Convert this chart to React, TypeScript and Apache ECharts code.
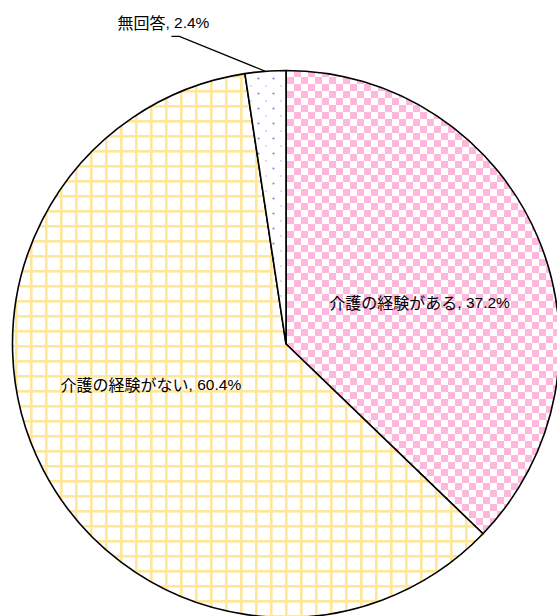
import React, { useEffect, useRef } from "react";
import * as echarts from "echarts";

const categories = ["介護の経験がある", "介護の経験がない", "無回答"];
const values = [37.2, 60.4, 2.4];

function makeChecker(): string {
  const c = document.createElement("canvas");
  c.width = 14;
  c.height = 14;
  const g = c.getContext("2d")!;
  g.fillStyle = "#ffffff";
  g.fillRect(0, 0, 14, 14);
  g.fillStyle = "#FFB8DD";
  g.fillRect(0, 0, 7, 7);
  g.fillRect(7, 7, 7, 7);
  return c.toDataURL();
}

function makeGrid(): string {
  const c = document.createElement("canvas");
  c.width = 15;
  c.height = 15;
  const g = c.getContext("2d")!;
  g.fillStyle = "#ffffff";
  g.fillRect(0, 0, 15, 15);
  g.fillStyle = "#FFF0C4";
  g.fillRect(2, 0, 1, 15);
  g.fillRect(0, 2, 15, 1);
  g.fillStyle = "#FFE699";
  g.fillRect(0, 0, 2, 15);
  g.fillRect(0, 0, 15, 2);
  return c.toDataURL();
}

function makeDots(): string {
  const c = document.createElement("canvas");
  c.width = 15;
  c.height = 15;
  const g = c.getContext("2d")!;
  g.fillStyle = "#ffffff";
  g.fillRect(0, 0, 15, 15);
  g.fillStyle = "#6F90D8";
  g.beginPath();
  g.arc(3.5, 3.5, 1.1, 0, Math.PI * 2);
  g.fill();
  g.fillStyle = "#9DB3E4";
  g.beginPath();
  g.arc(11, 11, 0.8, 0, Math.PI * 2);
  g.fill();
  return c.toDataURL();
}

export default function App() {
  const ref = useRef<HTMLDivElement>(null);

  useEffect(() => {
    if (!ref.current) return;
    const chart = echarts.init(ref.current, null, { renderer: "svg" });
    const patterns = [
      { image: makeChecker(), repeat: "repeat", imageWidth: 14, imageHeight: 14 },
      { image: makeGrid(), repeat: "repeat", imageWidth: 15, imageHeight: 15 },
      { image: makeDots(), repeat: "repeat", imageWidth: 15, imageHeight: 15 },
    ];
    const labelStyle = {
      color: "#000",
      formatter: (p: any) => `{a|${p.name}}{n|, ${p.value}%}`,
      rich: {
        a: {
          color: "#000",
          fontSize: 16,
          fontFamily: "'Noto Sans CJK JP', sans-serif",
        },
        n: {
          color: "#000",
          fontSize: 15.5,
          fontFamily: "'Liberation Sans', Arial, sans-serif",
        },
      },
    };
    chart.setOption({
      animation: false,
      backgroundColor: "#ffffff",
      series: [
        {
          type: "pie",
          center: [286, 344],
          radius: 273.5,
          startAngle: 90,
          clockwise: true,
          avoidLabelOverlap: false,
          itemStyle: { borderColor: "#000", borderWidth: 1.6 },
          emphasis: { disabled: true },
          label: { ...labelStyle, position: "inside" },
          labelLine: { show: false },
          data: categories.map((name, i) => ({
            name,
            value: values[i],
            itemStyle: { color: patterns[i] as any },
            label:
              i === 2
                ? { ...labelStyle, position: "outside" }
                : { ...labelStyle, position: "inside" },
            labelLine:
              i === 2
                ? { show: true, length: 20, length2: 10, lineStyle: { color: "#000", width: 1.3 } }
                : { show: false },
          })),
          labelLayout: (params: any) => {
            if (params.dataIndex === 0) return { dx: 5, dy: 13 };
            if (params.dataIndex === 1) return { dx: -11, dy: -24 };
            const pts = params.labelLinePoints;
            if (!pts || !pts[0]) return {};
            const p0 = pts[0];
            return {
              x: p0[0] - 102,
              y: p0[1] - 49,
              align: "center",
              verticalAlign: "middle",
              labelLinePoints: [
                [p0[0], p0[1]],
                [p0[0] - 86, p0[1] - 35],
                [p0[0] - 94, p0[1] - 35],
              ],
            };
          },
        },
      ],
    });
    return () => chart.dispose();
  }, []);

  return (
    <div
      ref={ref}
      style={{ position: "fixed", left: 0, top: 0, width: 557, height: 616 }}
    />
  );
}
